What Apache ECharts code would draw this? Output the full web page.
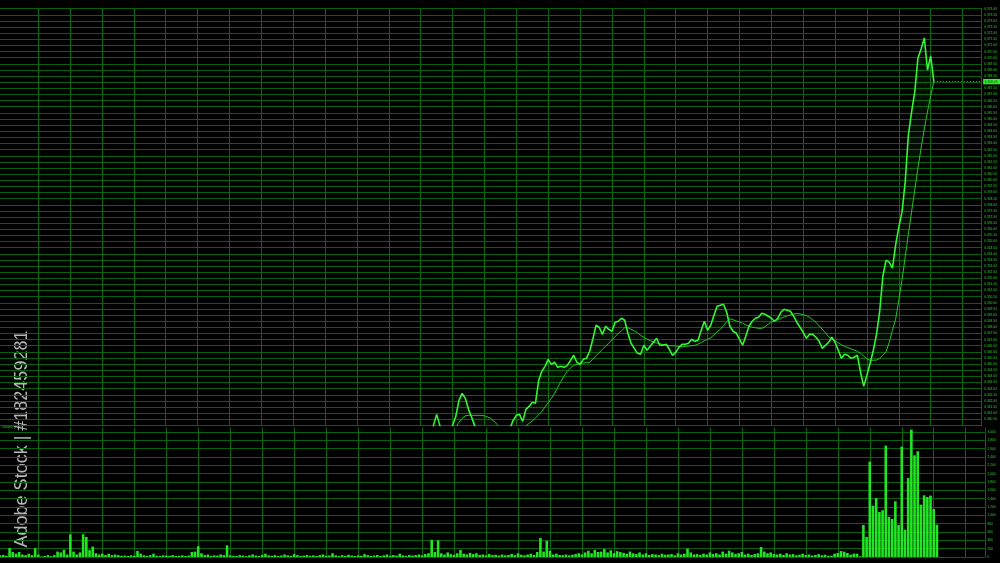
<!DOCTYPE html>
<html><head><meta charset="utf-8">
<script src="https://cdn.jsdelivr.net/npm/echarts@6/dist/echarts.min.js"></script>
<style>html,body{margin:0;padding:0;background:#000}#c{width:1000px;height:563px}</style>
</head><body><div id="c"></div>
<script>
// ---- data ----
const categoryCount = 309;
const categories = Array.from({length: categoryCount}, (_, i) => String(i + 1));

const priceStart = 135;
const priceValues = [
 6338.77,6340.00,6340.90,6340.00,6339.18,6338.77,6339.18,6340.00,6340.74,6342.04,
 6342.61,6342.21,6341.31,6340.65,6339.92,6339.18,6338.77,6338.37,6338.37,6338.61,
 6338.77,6338.94,6338.77,6339.02,6339.43,6339.75,6340.41,6340.82,6340.90,6340.33,
 6341.31,6341.55,6341.88,6341.80,6343.68,6344.41,6344.82,6345.39,6344.98,6345.15,
 6344.74,6344.82,6344.74,6344.90,6345.31,6345.72,6345.15,6344.98,6345.39,6345.47,
 6346.05,6347.03,6348.17,6348.01,6347.43,6348.09,6347.84,6347.68,6348.42,6348.50,
 6348.74,6348.58,6347.52,6346.70,6346.29,6345.88,6345.80,6346.54,6346.13,6346.45,
 6346.78,6347.11,6346.54,6346.54,6346.62,6346.21,6345.72,6345.96,6346.37,6346.62,
 6346.62,6346.70,6347.03,6346.86,6346.94,6347.76,6348.50,6347.76,6348.17,6348.99,
 6349.72,6349.80,6349.89,6349.23,6348.09,6347.68,6347.52,6347.03,6346.54,6347.27,
 6348.09,6348.50,6348.74,6348.82,6349.15,6349.07,6348.91,6348.74,6348.50,6348.74,
 6349.23,6349.48,6349.40,6349.31,6348.91,6348.42,6348.01,6347.60,6347.11,6347.43,
 6347.43,6347.19,6346.86,6346.29,6346.54,6346.78,6347.19,6346.78,6346.13,6345.47,
 6345.80,6345.72,6345.47,6345.56,6345.72,6344.33,6343.19,6344.08,6345.07,6346.13,
 6347.43,6349.31,6352.17,6353.48,6353.32,6352.83,6354.71,6356.18,6357.40,6359.85,
 6363.69,6365.57,6367.21,6369.98,6370.72,6371.62,6369.00,6370.15,6368.05
];

const maStart = 142;
const maValues = [
 6339.43,6339.84,6340.25,6340.57,6340.78,6340.82,6340.82,6340.82,6340.82,6340.82,
 6340.78,6340.69,6340.57,6340.33,6340.08,6339.75,6339.43,6339.18,6339.10,6339.10,
 6339.26,6339.51,6339.75,6339.96,6340.16,6340.37,6340.61,6340.86,6341.14,6341.51,
 6341.84,6342.21,6342.61,6343.10,6343.59,6344.04,6344.41,6344.70,6344.90,6344.98,
 6345.04,6345.09,6345.12,6345.15,6345.39,6345.68,6345.92,6346.21,6346.45,6346.70,
 6346.99,6347.23,6347.52,6347.72,6347.97,6347.97,6347.84,6347.72,6347.56,6347.35,
 6347.19,6347.04,6346.92,6346.80,6346.72,6346.66,6346.60,6346.54,6346.52,6346.50,
 6346.49,6346.43,6346.42,6346.45,6346.47,6346.50,6346.53,6346.63,6346.76,6346.90,
 6347.03,6347.15,6347.38,6347.64,6347.84,6348.13,6348.46,6348.70,6348.62,6348.52,
 6348.44,6348.33,6348.21,6348.09,6348.01,6347.97,6347.92,6347.92,6348.05,6348.25,
 6348.42,6348.50,6348.62,6348.74,6348.85,6348.94,6349.01,6349.09,6349.13,6349.09,
 6349.03,6348.97,6348.82,6348.62,6348.42,6348.13,6347.84,6347.56,6347.23,6347.07,
 6346.90,6346.74,6346.58,6346.45,6346.35,6346.25,6346.15,6346.05,6345.88,6345.66,
 6345.43,6345.31,6345.31,6345.33,6345.47,6345.72,6346.00,6346.78,6347.76,6348.66,
 6350.21,6351.85,6353.73,6355.60,6357.40,6359.20,6360.99,6362.63,6364.18,6365.57,
 6366.88,6368.05
];

const volumeValues = [
 40,50,30,215,120,80,120,60,45,80,
 45,210,60,15,25,45,20,45,130,110,
 175,60,545,130,60,110,545,480,165,250,
 90,60,80,45,80,45,60,45,30,35,
 25,40,30,145,80,40,30,45,80,30,
 25,40,35,30,45,25,30,40,25,35,
 120,130,260,90,45,60,30,40,35,60,
 45,280,40,30,25,45,35,20,40,60,
 35,25,50,80,40,30,45,25,35,60,
 40,30,70,45,25,35,50,30,40,25,
 45,60,30,35,90,40,25,45,30,55,
 35,25,40,30,70,45,30,35,50,25,
 40,60,30,45,35,80,40,30,50,35,
 45,60,40,70,90,410,120,400,90,60,
 110,70,50,90,170,80,60,100,70,90,
 50,60,40,70,45,55,35,60,40,50,
 75,45,90,55,40,60,80,50,120,455,
 130,385,150,60,80,50,45,60,40,55,
 70,90,60,110,150,90,170,120,130,190,
 110,160,90,140,120,100,80,130,90,70,
 110,60,90,50,70,60,45,80,55,60,
 70,40,90,60,80,200,110,60,70,50,
 80,60,110,70,90,60,130,80,150,110,
 70,90,120,60,80,50,70,90,240,130,
 90,110,70,60,80,50,90,60,70,40,
 55,80,45,60,35,50,70,40,55,30,
 32,80,96,144,128,96,56,80,80,16,
 768,480,2288,1232,1416,1080,1120,2672,960,912,
 1336,768,2648,656,1896,3056,2440,2536,1256,1480,
 1440,1472,1152,776
];

const volumeTitle = 'Volume (776)';
const watermarkText = 'Adobe Stock | #182459281';

// ---- build ----
const priceData = priceValues.map((v, k) => [priceStart + k, v]);
const maData = maValues.map((v, k) => [maStart + k, v]);
const bandBase = [], bandDiff = [];
maValues.forEach((m, k) => {
  const idx = maStart + k;
  const p = priceValues[idx - priceStart];
  bandBase.push([idx, m]);
  bandDiff.push([idx, +(p - m).toFixed(2)]);
});
const lastIdx = priceStart + priceValues.length - 1;
const lastPrice = priceValues[priceValues.length - 1];
const lastVolIdx = volumeValues.length - 1;
const lastVol = volumeValues[lastVolIdx];

const fmtPrice = v => v.toLocaleString('en-US', {minimumFractionDigits: 2, maximumFractionDigits: 2});
const hGrid = '#07600a';
const vGrid = '#0a680c';
const axisCol = '#0a680c';
const labelCol = '#2fcf2f';
const vSplit = {show: true, interval: (i) => i % 10 === 2 && i >= 12, lineStyle: {color: vGrid, width: 1}};

const chart = echarts.init(document.getElementById('c'), null, {renderer: 'canvas'});
chart.setOption({
  backgroundColor: '#000',
  animation: false,
  grid: [
    {left: -0.7, right: 15.1, top: 8.7, height: 416.7},
    {left: -0.7, right: 15.1, top: 427.8, height: 129.2}
  ],
  xAxis: [
    {type: 'category', gridIndex: 0, data: categories, boundaryGap: false,
     axisLine: {show: false}, axisTick: {show: false}, axisLabel: {show: false}, splitLine: vSplit},
    {type: 'category', gridIndex: 1, data: categories, boundaryGap: false,
     axisLine: {show: false}, axisTick: {show: false}, axisLabel: {show: false}, splitLine: vSplit}
  ],
  yAxis: [
    {type: 'value', gridIndex: 0, position: 'right', min: 6340, max: 6374, interval: 0.5,
     axisLine: {show: true, lineStyle: {color: axisCol}}, axisTick: {show: false},
     axisLabel: {fontSize: 3.3, color: labelCol, margin: 2.5, fontFamily: 'Liberation Sans', showMinLabel: false, formatter: fmtPrice},
     splitLine: {show: true, lineStyle: {color: hGrid, width: 1}}},
    {type: 'value', gridIndex: 1, position: 'right', min: 0, max: 3100, interval: 200,
     axisLine: {show: true, lineStyle: {color: axisCol}}, axisTick: {show: false},
     axisLabel: {fontSize: 3.3, color: labelCol, margin: 2.5, fontFamily: 'Liberation Sans', showMaxLabel: false},
     splitLine: {show: true, showMaxLine: false, lineStyle: {color: hGrid, width: 1}}}
  ],
  series: [
    {type: 'line', name: 'bandBase', xAxisIndex: 0, yAxisIndex: 0, data: bandBase, stack: 'band', stackStrategy: 'all',
     symbol: 'none', silent: true, lineStyle: {width: 0, opacity: 0}},
    {type: 'line', name: 'band', xAxisIndex: 0, yAxisIndex: 0, data: bandDiff, stack: 'band', stackStrategy: 'all',
     symbol: 'none', silent: true, lineStyle: {width: 0, opacity: 0}, areaStyle: {color: 'rgba(40,190,40,0.11)'}},
    {type: 'line', name: 'MA', xAxisIndex: 0, yAxisIndex: 0, data: maData, symbol: 'none',
     lineStyle: {color: '#27c227', width: 1}},
    {type: 'line', name: 'Price', xAxisIndex: 0, yAxisIndex: 0, data: priceData, symbol: 'none',
     lineStyle: {color: '#35f535', width: 1.6},
     markLine: {symbol: ['none', 'none'], silent: true, animation: false,
       lineStyle: {color: '#22c822', type: [1, 2], width: 1},
       label: {show: true, position: 'end', distance: 1.5, formatter: () => fmtPrice(lastPrice),
               fontSize: 3.3, color: '#044d04', backgroundColor: '#2ef02e', padding: [1.2, 3, 1.2, 1.5], fontFamily: 'Liberation Sans'},
       data: [[{coord: [lastIdx, lastPrice]}, {coord: [categoryCount - 1, lastPrice]}]]}},
    {type: 'bar', name: 'Volume', xAxisIndex: 1, yAxisIndex: 1, data: volumeValues, barWidth: 2.6,
     itemStyle: {color: '#22e622'},
     markLine: {symbol: ['none', 'none'], silent: true, animation: false,
       lineStyle: {opacity: 0},
       label: {show: true, position: 'end', distance: 1.5, formatter: () => String(lastVol),
               fontSize: 3.3, color: '#044d04', backgroundColor: '#2ef02e', padding: [1.2, 6, 1.2, 1.5], fontFamily: 'Liberation Sans'},
       data: [[{coord: [lastVolIdx, lastVol]}, {coord: [categoryCount - 1, lastVol]}]]}}
  ],
  graphic: [
    {type: 'text', left: 2, top: 425.5, style: {text: volumeTitle, fontSize: 3.3, fill: labelCol, fontFamily: 'Liberation Sans'}},
    {type: 'text', x: 22, y: 439, rotation: Math.PI / 2,
     style: {text: watermarkText, fontSize: 18, fill: 'rgba(215,215,215,0.85)', fontFamily: 'Liberation Sans',
             align: 'center', verticalAlign: 'middle'}}
  ]
});
</script></body></html>
